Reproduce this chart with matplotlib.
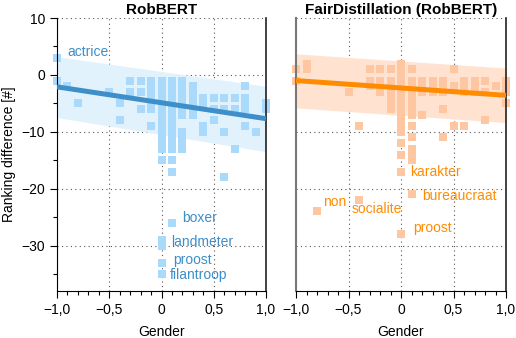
import numpy as np
import matplotlib
matplotlib.use('Agg')
import matplotlib.pyplot as plt
from matplotlib.ticker import FuncFormatter, MultipleLocator

plt.rcParams['font.family'] = ['Liberation Sans', 'DejaVu Sans']

# ranking differences per gender value
rob_x = [-1.0, -1.0, -0.9, -0.8, -0.5, -0.4, -0.4, -0.3, -0.3, -0.2, -0.2, -0.2,
         -0.1, -0.1, -0.1, -0.1, -0.1, -0.1, -0.1,
         0.0, 0.0, 0.0, 0.0, 0.0, 0.0, 0.0, 0.0, 0.0, 0.0, 0.0, 0.0, 0.0, 0.0,
         0.0, 0.0, 0.0, 0.0,
         0.1, 0.1, 0.1, 0.1, 0.1, 0.1, 0.1, 0.1, 0.1, 0.1, 0.1, 0.1, 0.1, 0.1,
         0.1, 0.1,
         0.2, 0.2, 0.2, 0.2, 0.2, 0.2, 0.2, 0.2, 0.2, 0.2, 0.2,
         0.3, 0.3, 0.3, 0.3, 0.3, 0.3,
         0.4, 0.4, 0.4, 0.4, 0.5, 0.5, 0.5, 0.6, 0.6, 0.6, 0.6, 0.7, 0.7, 0.7,
         0.8, 0.8, 0.8, 0.8, 0.8, 0.9, 1.0, 1.0]
rob_y = [3, -1, -2, -5, -3, -5, -8, -1, -3, -1, -3, -6,
         -1, -2, -3, -4, -5, -6, -9,
         -1, -2, -3, -4, -5, -6, -7, -8, -9, -10, -11, -12, -13, -15,
         -29, -30, -33, -35,
         -1, -2, -3, -4, -5, -6, -7, -8, -9, -10, -11, -12, -13, -15,
         -17, -26,
         -1, -2, -3, -4, -5, -6, -7, -10, -11, -12, -13,
         -2, -3, -4, -5, -6, -7,
         -4, -5, -9, -10, -4, -6, -8, -4, -6, -10, -18, -4, -6, -13,
         -2, -4, -5, -6, -9, -10, -5, -6]

fair_x = [-1.0, -1.0, -0.9, -0.9, -0.8, -0.5, -0.4, -0.4, -0.3, -0.3, -0.3,
          -0.2, -0.2, -0.2, -0.2,
          -0.1, -0.1, -0.1, -0.1, -0.1, -0.1, -0.1,
          0.0, 0.0, 0.0, 0.0, 0.0, 0.0, 0.0, 0.0, 0.0, 0.0, 0.0, 0.0, 0.0,
          0.0, 0.0, 0.0, 0.0,
          0.1, 0.1, 0.1, 0.1, 0.1, 0.1, 0.1, 0.1, 0.1, 0.1, 0.1, 0.1, 0.1,
          0.1, 0.1,
          0.2, 0.2, 0.2, 0.2, 0.3, 0.3, 0.3,
          0.4, 0.4, 0.4, 0.4, 0.4, 0.5, 0.5, 0.5,
          0.6, 0.6, 0.6, 0.6, 0.7, 0.7, 0.7, 0.8, 0.8, 0.8, 0.9,
          1.0, 1.0, 1.0, 1.0]
fair_y = [1, -1, 2, 1, -24, -3, -9, -22, 1, -1, -2,
          1, -1, -2, -3,
          1, -1, -2, -3, -4, -5, -6,
          2, 1, 0, -1, -2, -3, -4, -5, -6, -7, -8, -9, -10,
          -12, -14, -17, -28,
          1, -1, -2, -3, -4, -5, -6, -7, -9, -11, -13, -14, -15,
          -21, -21,
          -1, -2, -3, -7, -1, -2, -3,
          -1, -2, -3, -6, -11, 1, -2, -9,
          -1, -2, -3, -9, -1, -2, -3, -1, -3, -8, -2,
          -1, -2, -3, -5]

# fitted line and band at gender = -1 and +1
fit_ends = [-1.0, 1.0]
rob_fit = [-2.1, -7.7]
rob_band_hi = [3.2, -2.0]
rob_band_lo = [-7.5, -13.5]
fair_fit = [-1.0, -3.6]
fair_band_hi = [3.7, 1.2]
fair_band_lo = [-5.8, -8.4]

rob_words = ['actrice', 'boxer', 'landmeter', 'proost', 'filantroop']
rob_word_pos = [(-0.9, 4.0), (0.2, -25.2), (0.09, -29.3), (0.11, -32.6), (0.08, -35.2)]
fair_words = ['karakter', 'bureaucraat', 'non', 'socialite', 'proost']
fair_word_pos = [(0.09, -17.0), (0.2, -21.3), (-0.74, -22.4), (-0.47, -23.6), (0.12, -27.0)]


def fmt_x(v, pos):
    if abs(v) < 1e-9:
        return '0'
    return ('%.1f' % v).replace('.', ',').replace('-', '\u2212')


def fmt_y(v, pos):
    return ('%d' % v).replace('-', '\u2212')


fig = plt.figure(figsize=(5.16, 3.38), dpi=100)
ax1 = fig.add_axes([57/516, 1-291/338, 209/516, 273/338])
ax2 = fig.add_axes([296/516, 1-291/338, 210/516, 273/338])

panels = [
    (ax1, 'RobBERT', rob_x, rob_y, rob_fit, rob_band_hi, rob_band_lo,
     '#a9d9fb', '#3d8ec9', '#e2f2fd', '#3d8ec9', rob_words, rob_word_pos),
    (ax2, 'FairDistillation (RobBERT)', fair_x, fair_y, fair_fit, fair_band_hi,
     fair_band_lo, '#ffc6a2', '#ff8c00', '#ffe3d0', '#ff8c00', fair_words, fair_word_pos),
]

for (ax, title, xs, ys, fit, hi, lo, pc, lc, bc, tc, words, wpos) in panels:
    ax.fill_between(fit_ends, lo, hi, color=bc, lw=0, zorder=1)
    ax.plot(xs, ys, 's', ms=5.6, color=pc, mew=0, zorder=2, clip_on=False)
    ax.plot(fit_ends, fit, '-', color=lc, lw=3.6, zorder=3, solid_capstyle='butt')
    for w, (tx, ty) in zip(words, wpos):
        ax.text(tx, ty, w, color=tc, fontsize=10, va='center', ha='left', zorder=4)
    ax.set_xlim(-1, 1)
    ax.set_ylim(-38, 10)
    ax.set_title(title, fontsize=11, fontweight='bold', pad=3)
    ax.set_xlabel('Gender', fontsize=10, labelpad=6)
    ax.xaxis.set_major_locator(MultipleLocator(0.5))
    ax.xaxis.set_minor_locator(MultipleLocator(0.1))
    ax.xaxis.set_major_formatter(FuncFormatter(fmt_x))
    ax.yaxis.set_major_locator(MultipleLocator(10))
    ax.yaxis.set_minor_locator(MultipleLocator(5))
    ax.yaxis.set_major_formatter(FuncFormatter(fmt_y))
    ax.tick_params(which='both', direction='out', labelsize=10, width=0.8)
    ax.tick_params(which='major', length=5)
    ax.tick_params(which='minor', length=3)
    ax.grid(True, which='major', ls=(0, (1, 3)), color='#555555', lw=0.8)
    ax.set_axisbelow(True)
    ax.spines['top'].set_visible(False)
    ax.spines['right'].set_color('#222222')
    ax.spines['right'].set_linewidth(1.2)

ax1.set_ylabel('Ranking difference [#]', fontsize=10)
ax2.tick_params(axis='y', which='both', left=False, labelleft=False)
ax2.spines['left'].set_color('#777777')
ax2.spines['left'].set_linewidth(1.5)

fig.savefig('out.png', dpi=100)
